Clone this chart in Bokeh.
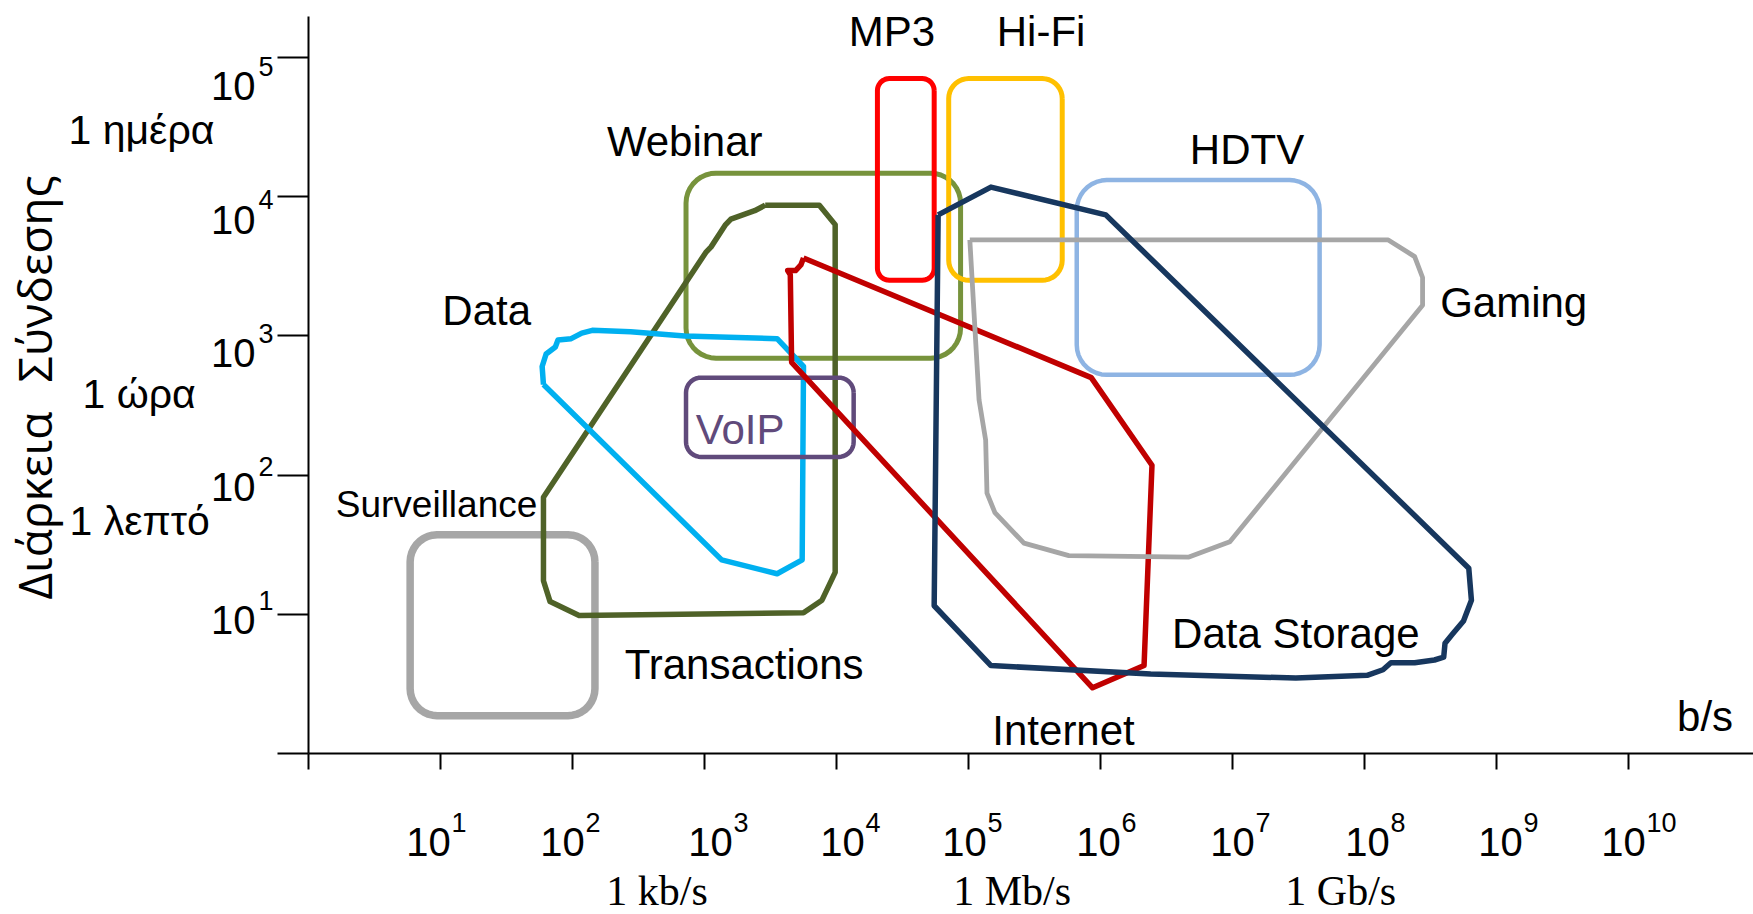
import numpy as np
from bokeh.plotting import figure
from bokeh.models import Label, FixedTicker, Range1d, CustomJSTickFormatter
from bokeh.embed import file_html
from bokeh.resources import INLINE

# ---------------- data (values are log10 exponents) ----------------
x_tick_exp = list(range(0, 11))          # bit rate ticks 10^0 .. 10^10 b/s
y_tick_exp = list(range(0, 6))           # duration ticks 10^0 .. 10^5 s
x_label_exp = list(range(1, 11))
y_label_exp = list(range(1, 6))

# rounded-box applications: bit-rate range (x) and duration range (y)
box_names = ["Surveillance", "Webinar", "VoIP", "MP3", "Hi-Fi", "HDTV"]
box_x_lo = [0.77, 2.86, 2.86, 4.31, 4.85, 5.82]
box_x_hi = [2.17, 4.94, 4.13, 4.74, 5.71, 7.66]
box_y_lo = [0.27, 2.84, 2.13, 3.40, 3.40, 2.72]
box_y_hi = [1.57, 4.17, 2.70, 4.85, 4.85, 4.12]

# free-form application regions
transactions_x = [3.46, 3.87, 3.99, 3.99, 3.89, 3.75, 2.05, 1.83, 1.78, 1.78, 3.01, 3.05, 3.16, 3.20, 3.38]
transactions_y = [3.94, 3.94, 3.80, 1.30, 1.10, 1.01, 0.99, 1.09, 1.24, 1.84, 3.60, 3.64, 3.80, 3.84, 3.90]

data_x = [1.78, 1.77, 1.80, 1.87, 1.89, 1.99, 2.07, 2.15, 2.44, 2.85, 3.55, 3.75, 3.74, 3.55, 3.13]
data_y = [2.65, 2.78, 2.87, 2.92, 2.97, 2.98, 3.02, 3.04, 3.03, 3.00, 2.98, 2.78, 1.39, 1.29, 1.39]

internet_x = [3.75, 3.73, 3.69, 3.63, 3.65, 3.66, 5.94, 6.33, 6.39, 5.93]
internet_y = [3.56, 3.51, 3.47, 3.47, 3.44, 2.81, 0.47, 0.63, 2.07, 2.70]

storage_x = [4.77, 5.17, 6.04, 8.79, 8.81, 8.75, 8.67, 8.61, 8.60, 8.53, 8.38, 8.20, 8.14, 8.02, 7.48, 6.38, 5.17, 4.74]
storage_y = [3.87, 4.07, 3.87, 1.33, 1.10, 0.95, 0.86, 0.79, 0.69, 0.67, 0.65, 0.65, 0.60, 0.56, 0.54, 0.57, 0.63, 1.06]

gaming_x = [5.01, 5.08, 5.13, 5.14, 5.20, 5.42, 5.76, 6.67, 6.98, 8.44, 8.44, 8.38, 8.18]
gaming_y = [3.69, 2.54, 2.25, 1.87, 1.73, 1.51, 1.42, 1.41, 1.52, 3.22, 3.42, 3.57, 3.69]

# application name labels (center x, baseline y)
app_labels = ["MP3", "Hi-Fi", "Webinar", "HDTV", "Gaming", "Data", "VoIP",
              "Surveillance", "Transactions", "Data Storage", "Internet", "b/s"]
app_label_x = [4.42, 5.55, 2.85, 7.11, 9.13, 1.35, 3.27, 0.97, 3.30, 7.48, 5.72, 10.58]
app_label_y = [5.09, 5.09, 4.30, 4.24, 3.14, 3.08, 2.23, 1.69, 0.54, 0.76, 0.06, 0.16]

rate_labels = ["1 kb/s", "1 Mb/s", "1 Gb/s"]
rate_label_x = [2.64, 5.33, 7.82]

time_labels = ["1 ημέρα", "1 ώρα", "1 λεπτό"]
time_label_y = [4.38, 2.48, 1.57]

title_words = ["Διάρκεια", "Σύνδεσης"]
title_word_y = [1.78, 3.41]

# ---------------- styles / layout ----------------
box_colors = ["#a6a6a6", "#77933c", "#604a7b", "#ff0000", "#ffc000", "#8eb4e3"]
box_widths = [7.5, 5, 4.5, 5, 5, 4.5]
box_radius = [27, 30, 15, 12, 20, 30]
x_label_dx = [-12, -10, 6, 6, -4, -2, 0, 3, 4, -5]   # hand placement of x tick labels (px)

W, H = 1753, 914
PX_X, PX_Y = 132.0, 139.1      # pixels per decade
X0, Y0 = 308.0, 752.7          # canvas position of the (10^0, 10^0) origin
Y_TOP = 15.6                   # canvas y where the vertical axis line ends
LIFT = 14                      # baseline correction of the text renderer (px)

x_rng = Range1d(10 ** (-X0 / PX_X), 10 ** ((W - X0) / PX_X))
y_rng = Range1d(10 ** (-(H - Y0) / PX_Y), 10 ** (Y0 / PX_Y))

p = figure(width=W, height=H, x_axis_type="log", y_axis_type="log",
           x_range=x_rng, y_range=y_rng, title=None,
           output_backend="svg", toolbar_location=None, min_border=0)
p.grid.visible = False
p.outline_line_color = None
p.background_fill_color = "white"
p.border_fill_color = "white"

blank = CustomJSTickFormatter(code="return ''")
for ax, exps, out in ((p.xaxis, x_tick_exp, 16), (p.yaxis, y_tick_exp, 31)):
    ax.ticker = FixedTicker(ticks=[10.0 ** k for k in exps], minor_ticks=[])
    ax.formatter = blank
    ax.fixed_location = 1
    ax.axis_line_width = 2
    ax.axis_line_color = "black"
    ax.major_tick_line_width = 2
    ax.major_tick_line_color = "black"
    ax.major_tick_in = 0
    ax.major_tick_out = out
    ax.minor_tick_line_color = None
    ax.major_label_standoff = 0
p.xaxis.bounds = (1, x_rng.end)
p.yaxis.bounds = (1, 10 ** ((Y0 - Y_TOP) / PX_Y))


def rounded_box(x0, x1, y0, y1, r_px, n=10):
    rx, ry = r_px / PX_X, r_px / PX_Y
    xs, ys = [], []
    for cx, cy, a0 in ((x1 - rx, y1 - ry, 0), (x0 + rx, y1 - ry, 90),
                       (x0 + rx, y0 + ry, 180), (x1 - rx, y0 + ry, 270)):
        for a in np.radians(np.linspace(a0, a0 + 90, n)):
            xs.append(cx + rx * np.cos(a))
            ys.append(cy + ry * np.sin(a))
    xs.append(xs[0]); ys.append(ys[0])
    return [10 ** v for v in xs], [10 ** v for v in ys]


def closed(xe, ye):
    return [10 ** v for v in xe + xe[:1]], [10 ** v for v in ye + ye[:1]]


def draw_box(i):
    bx, by = rounded_box(box_x_lo[i], box_x_hi[i], box_y_lo[i], box_y_hi[i], box_radius[i])
    p.line(bx, by, line_color=box_colors[i], line_width=box_widths[i], line_join="round")


def draw_poly(xe, ye, color, width=5.5):
    px_, py_ = closed(xe, ye)
    p.line(px_, py_, line_color=color, line_width=width, line_join="round")


draw_box(0)
draw_box(1)
draw_poly(transactions_x, transactions_y, "#4f6228")
draw_poly(data_x, data_y, "#00b0f0")
draw_box(2)
draw_poly(internet_x, internet_y, "#c00000")
draw_box(3)
draw_box(4)
draw_box(5)
draw_poly(gaming_x, gaming_y, "#a6a6a6", 4.8)
draw_poly(storage_x, storage_y, "#17375e")

SANS = "Liberation Sans"


def lab(x, y, text, size, font=SANS, color="black", align="center", xo=0, yo=0, angle=0):
    p.add_layout(Label(x=x, y=y, text=text, text_font=font, text_font_size=f"{size}px",
                       text_color=color, text_align=align, text_baseline="alphabetic",
                       x_offset=xo, y_offset=yo, angle=angle))


# application names
for t, lx, ly in zip(app_labels, app_label_x, app_label_y):
    size = 37 if t == "Surveillance" else 42
    color = "#604a7b" if t == "VoIP" else "black"
    lab(10 ** lx, 10 ** ly, t, size, color=color, yo=LIFT)

# x tick labels 10^k
for k, dx in zip(x_label_exp, x_label_dx):
    lab(10.0 ** k, 1, "10", 40, xo=dx, yo=-105 + LIFT + 2)
    lab(10.0 ** k, 1, str(k), 27, align="left", xo=dx + 23, yo=-85 + LIFT + 2)

# y tick labels 10^k (hand-placed below each tick)
for k in y_label_exp:
    off = 14.5 + 5.6 * k
    lab(1, 10.0 ** k, "10", 40, align="right", xo=-53, yo=-off + LIFT)
    lab(1, 10.0 ** k, str(k), 27, align="left", xo=-50, yo=-off + 20 + LIFT)

# rate units
for t, lx in zip(rate_labels, rate_label_x):
    lab(10 ** lx, 1, t, 42, font="Liberation Serif", yo=-152 + LIFT)

# time units
for t, ly, xo in zip(time_labels, time_label_y, [-240, -226, -239]):
    lab(1, 10 ** ly, t, 41, align="left", xo=xo, yo=LIFT)

# axis title
for t, ly in zip(title_words, title_word_y):
    lab(1, 10 ** ly, t, 46, font="Open Sans", xo=-256 - 19, angle=np.pi / 2)

open("out.html", "w").write(file_html(p, INLINE))
